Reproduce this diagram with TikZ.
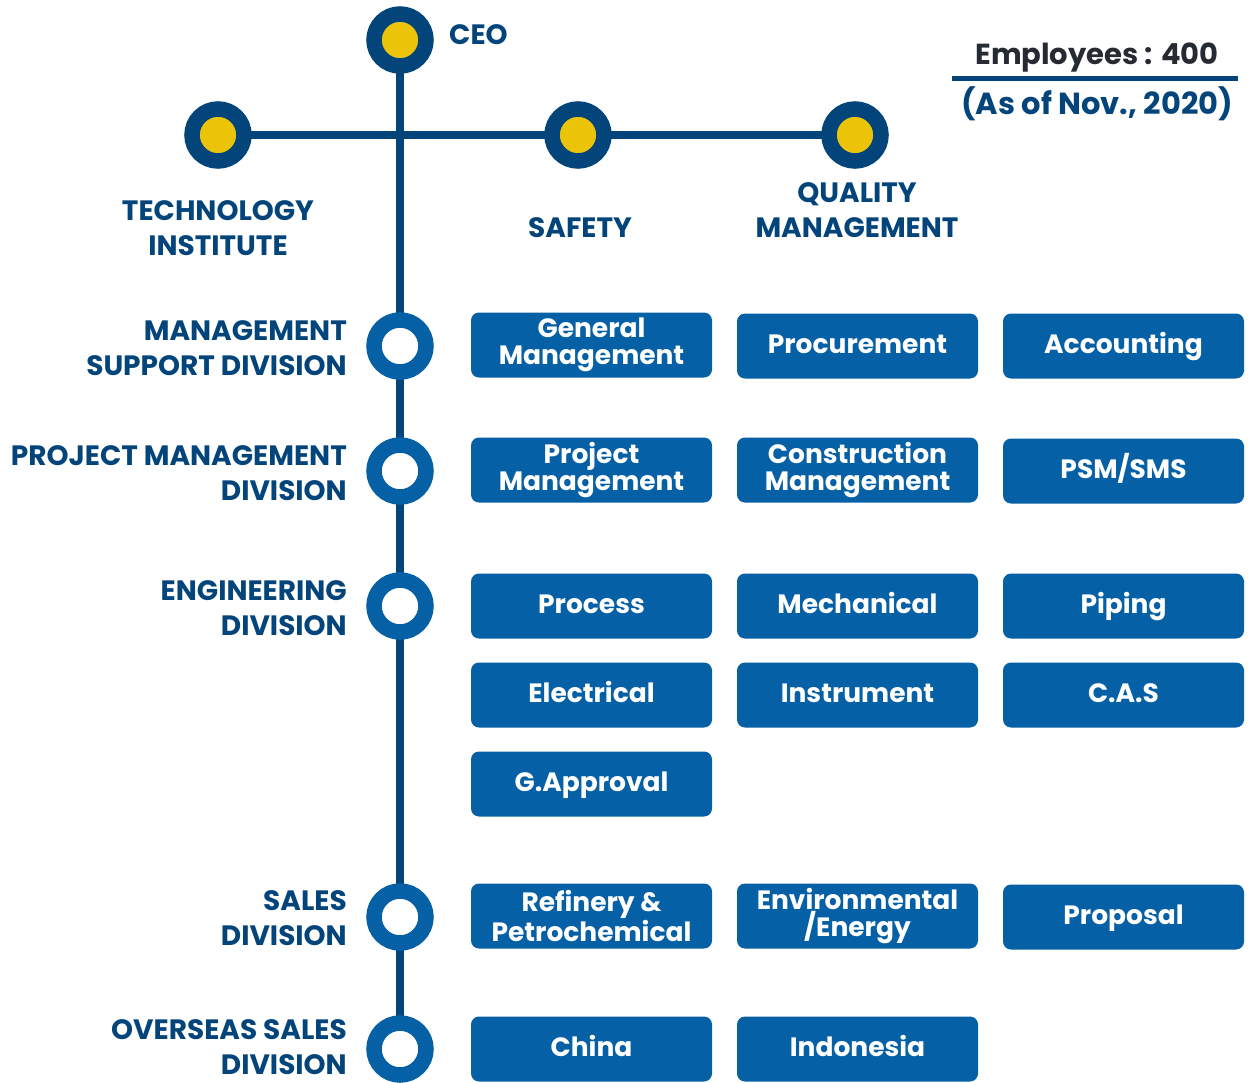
\documentclass[tikz,border=0pt]{standalone}
\usepackage{fontspec}
\setmainfont{Poppins}
\usetikzlibrary{backgrounds}
\definecolor{navy}{HTML}{03457A}
\definecolor{midblue}{HTML}{0660A5}
\definecolor{gold}{HTML}{EBC40A}
\definecolor{darkgray}{HTML}{262B33}
\tikzset{
  topc/.style={circle, draw=navy, line width=15.5pt, fill=gold, minimum size=52pt, inner sep=0pt},
  divc/.style={circle, draw=midblue, line width=15.5pt, fill=white, minimum size=52pt, inner sep=0pt},
  unit/.style={rounded corners=8pt, fill=midblue, text=white, minimum width=241pt, minimum height=65pt, inner sep=0pt, align=center, font=\bfseries\fontsize{26.5}{27.5}\selectfont},
  oneline/.style={text height=22pt, text depth=8pt},
  lbl/.style={text=navy, font=\bfseries\fontsize{28}{35}\selectfont, inner sep=0pt},
  trunk/.style={draw=navy, line width=8pt}
}
\begin{document}
\begin{tikzpicture}[x=1pt,y=-1pt]
\useasboundingbox (0,0) rectangle (1252,1082);
% top level
\node[topc] (ceo) at (400,40) {};
\node[topc] (tech) at (218,135) {};
\node[topc] (safety) at (578,135) {};
\node[topc] (qual) at (855,135) {};
% divisions
\node[divc] (msd) at (400,346) {};
\node[divc] (pmd) at (400,471) {};
\node[divc] (eng) at (400,606) {};
\node[divc] (sales) at (400,917) {};
\node[divc] (ovs) at (400,1049) {};
\begin{pgfonlayer}{background}
\draw[trunk] (ceo.center) -- (ovs.center);
\draw[trunk] (tech.center) -- (qual.center);
\end{pgfonlayer}
% top labels
\node[lbl, oneline, anchor=west] (ceol) at (449,37) {CEO};
\node[lbl, align=center] (techl) at (218,228) {TECHNOLOGY\\INSTITUTE};
\node[lbl, oneline] (safl) at (580,230) {SAFETY};
\node[lbl, align=center] (quall) at (857,210) {QUALITY\\MANAGEMENT};
% division labels
\node[lbl, align=right, anchor=east] (msdl) at (347,348) {MANAGEMENT\\SUPPORT DIVISION};
\node[lbl, align=right, anchor=east] (pmdl) at (347,473) {PROJECT MANAGEMENT\\DIVISION};
\node[lbl, align=right, anchor=east] (engl) at (347,608) {ENGINEERING\\DIVISION};
\node[lbl, align=right, anchor=east] (salesl) at (347,918) {SALES\\DIVISION};
\node[lbl, align=right, anchor=east] (ovsl) at (347,1047) {OVERSEAS SALES\\DIVISION};
% units
\node[unit] (gm) at (591.5,345) {General\\Management};
\node[unit, oneline] (proc) at (857.5,346) {Procurement};
\node[unit, oneline] (acc) at (1123.5,346) {Accounting};
\node[unit] (pm) at (591.5,470) {Project\\Management};
\node[unit] (cm) at (857.5,470) {Construction\\Management};
\node[unit, oneline] (psm) at (1123.5,471) {PSM/SMS};
\node[unit, oneline] (pro) at (591.5,606) {Process};
\node[unit, oneline] (mech) at (857.5,606) {Mechanical};
\node[unit, oneline] (pip) at (1123.5,606) {Piping};
\node[unit, oneline] (ele) at (591.5,695) {Electrical};
\node[unit, oneline] (ins) at (857.5,695) {Instrument};
\node[unit, oneline] (cas) at (1123.5,695) {C.A.S};
\node[unit, oneline] (gap) at (591.5,784) {G.Approval};
\node[unit] (ref) at (591.5,916) {Refinery \&\\Petrochemical};
\node[unit] (env) at (857.5,916) {Environmental\\/Energy};
\node[unit, oneline] (prop) at (1123.5,917) {Proposal};
\node[unit, oneline] (chn) at (591.5,1049) {China};
\node[unit, oneline] (ind) at (857.5,1049) {Indonesia};
% employees
\node[lbl, oneline, text=darkgray, font=\bfseries\fontsize{29}{30}\selectfont] (emp) at (1097,57) {Employees : 400};
\coordinate (ul1) at (952,78);
\coordinate (ul2) at (1238,78);
\draw[navy, line width=5pt] (ul1) -- (ul2);
\node[lbl, oneline, font=\bfseries\fontsize{30.5}{30}\selectfont] (asof) at (1097,107) {(As of Nov., 2020)};
\end{tikzpicture}
\end{document}
